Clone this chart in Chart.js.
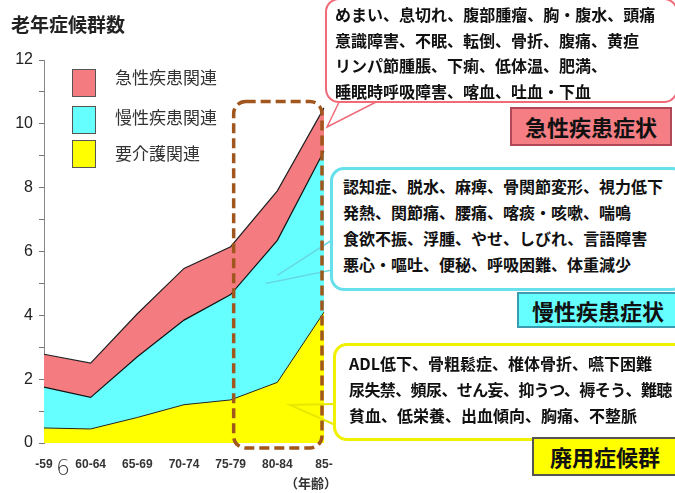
<!DOCTYPE html>
<html>
<head>
<meta charset="utf-8">
<script src="https://cdn.jsdelivr.net/npm/chart.js@4.4.0/dist/chart.umd.min.js"></script>
<style>
  body { margin: 0; width: 675px; height: 493px; overflow: hidden; background: #fff; position: relative; }
  #c { position: absolute; left: 0; top: 0; }
  .jp { font-family: "Noto Sans CJK JP", sans-serif; position: absolute; white-space: nowrap; }
  .title { left: 11px; top: 10px; font-size: 19px; font-weight: 700; color: #222; }
  .leg-box { position: absolute; left: 72px; width: 22px; height: 26px; border: 1px solid #555; }
  .leg-txt { left: 115px; font-size: 17px; color: #333; line-height: 20px; }
  .callout { background: #fff; border-radius: 14px; font-weight: 700; font-size: 16px; line-height: 26px; color: #111; }
  .tag { font-weight: 700; font-size: 22px; color: #111; text-align: center; box-sizing: border-box; }
</style>
</head>
<body>
<canvas id="c" width="675" height="493"></canvas>

<div class="jp title">老年症候群数</div>

<div class="leg-box" style="top:69px;background:#f47c80"></div>
<div class="leg-box" style="top:106px;background:#66ffff"></div>
<div class="leg-box" style="top:140px;background:#ffff00"></div>
<div class="jp leg-txt" style="top:67px">急性疾患関連</div>
<div class="jp leg-txt" style="top:107px">慢性疾患関連</div>
<div class="jp leg-txt" style="top:143px">要介護関連</div>

<div class="jp callout" style="left:325px;top:-2px;width:341px;height:99px;border:2px solid #f06a78;padding:2px 0 0 8px;line-height:25.5px">
めまい、息切れ、腹部腫瘤、胸・腹水、頭痛<br>意識障害、不眠、転倒、骨折、腹痛、黄疸<br>リンパ節腫脹、下痢、低体温、肥満、<br>睡眠時呼吸障害、喀血、吐血・下血
</div>
<div class="jp tag" style="left:510px;top:107px;width:162px;height:39px;line-height:35px;background:#f47e84;border:2px solid #b04858">急性疾患症状</div>

<div class="jp callout" style="left:330px;top:167px;width:340px;height:115px;border:3px solid #66e0ea;padding:3px 0 0 10px;overflow:hidden">
認知症、脱水、麻痺、骨関節変形、視力低下<br>発熱、関節痛、腰痛、喀痰・咳嗽、喘鳴<br>食欲不振、浮腫、やせ、しびれ、言語障害<br>悪心・嘔吐、便秘、呼吸困難、体重減少
</div>
<div class="jp tag" style="left:517px;top:292px;width:162px;height:36px;line-height:32px;background:#66ffff;border:2px solid #3a9cae">慢性疾患症状</div>

<div class="jp callout" style="left:333px;top:343px;width:340px;height:88px;border:3px solid #f0f000;padding:4px 0 0 13px;overflow:hidden">
ADL低下、骨粗鬆症、椎体骨折、嚥下困難<br><span style="letter-spacing:-0.6px">尿失禁、頻尿、せん妄、抑うつ、褥そう、難聴</span><br>貧血、低栄養、出血傾向、胸痛、不整脈
</div>
<div class="jp tag" style="left:532px;top:437px;width:146px;height:39px;line-height:35px;background:#ffff00;border:2px solid #555">廃用症候群</div>

<div class="jp" style="left:285px;top:473px;font-size:13px;font-weight:700;color:#333">（年齢）</div>
<div style="position:absolute;left:56px;top:455px;font-family:'DejaVu Sans';font-weight:200;font-size:22px;color:#333">6</div>

<script>
// age groups
const ageLabels = ['-59', '60-64', '65-69', '70-74', '75-79', '80-84', '85-'];
// stacked counts per age group
const careValues    = [0.47, 0.44, 0.80, 1.20, 1.35, 1.90, 4.10]; // 要介護関連
const chronicValues = [1.28, 0.99, 1.90, 2.65, 3.30, 4.45, 5.05]; // 慢性疾患関連
const acuteValues   = [1.03, 1.07, 1.35, 1.62, 1.50, 1.55, 1.35]; // 急性疾患関連
const yTicks = [0, 2, 4, 6, 8, 10, 12];

const annotations = {
    id: 'annotations',
    afterDatasetsDraw(chart) {
        const ctx = chart.ctx;
        const x = chart.scales.x, y = chart.scales.y;
        const px = v => x.getPixelForValue(v);
        const py = v => y.getPixelForValue(v);
        ctx.save();

        // red tail
        ctx.beginPath();
        ctx.moveTo(342, 96);
        ctx.lineTo(px(6) + 3, py(9.9));
        ctx.lineTo(388, 96);
        ctx.closePath();
        ctx.fillStyle = '#fff';
        ctx.fill();
        ctx.strokeStyle = '#f06a78';
        ctx.lineWidth = 1.5;
        ctx.stroke();

        // cyan tail
        ctx.strokeStyle = '#66d8e4';
        ctx.lineWidth = 1.5;
        ctx.beginPath();
        ctx.moveTo(332, 240);
        ctx.lineTo(px(5), py(5.25));
        ctx.moveTo(332, 270);
        ctx.lineTo(px(4.75), py(5.0));
        ctx.stroke();

        // yellow tail
        ctx.strokeStyle = '#e8e800';
        ctx.lineWidth = 2;
        ctx.beginPath();
        ctx.moveTo(335, 404);
        ctx.lineTo(px(5.27), py(1.19));
        ctx.lineTo(340, 427);
        ctx.stroke();

        // dashed frame round 75-79 .. 85-
        const l = px(4) + 3, r = px(6) - 2, t = py(10.7), b = py(0) + 5, rad = 12;
        ctx.strokeStyle = '#a0561c';
        ctx.lineWidth = 3.5;
        ctx.setLineDash([10, 5]);
        ctx.beginPath();
        ctx.roundRect(l, t, r - l, b - t, rad);
        ctx.stroke();
        ctx.restore();
    }
};

new Chart(document.getElementById('c'), {
    type: 'line',
    data: {
        labels: ageLabels,
        datasets: [
            { label: '要介護関連', data: careValues, fill: 'origin', backgroundColor: '#ffff00', borderColor: '#222', borderWidth: 1 },
            { label: '慢性疾患関連', data: chronicValues, fill: '-1', backgroundColor: '#66ffff', borderColor: '#111', borderWidth: 1.2 },
            { label: '急性疾患関連', data: acuteValues, fill: '-1', backgroundColor: '#f47c80', borderColor: '#222', borderWidth: 1.2 }
        ]
    },
    options: {
        responsive: false,
        animation: false,
        events: [],
        elements: { point: { radius: 0 }, line: { tension: 0 } },
        layout: { padding: { left: 0, top: 60, right: 351, bottom: 0 } },
        plugins: { legend: { display: false }, tooltip: { enabled: false } },
        scales: {
            x: {
                offset: false,
                grid: { display: false, drawTicks: false },
                border: { display: false },
                ticks: {
                    autoSkip: false, maxRotation: 0, padding: 14,
                    color: '#333',
                    font: { family: 'Liberation Sans', size: 12, weight: 'bold' }
                },
                afterFit(scale) { scale.height = 50; }
            },
            y: {
                stacked: true,
                min: 0, max: 12,
                grid: {
                    drawOnChartArea: false, tickLength: 5,
                    color: '#777'
                },
                border: { color: '#888', width: 1 },
                ticks: {
                    stepSize: 1, padding: 6, color: '#222',
                    font: { family: 'Liberation Sans', size: 16 },
                    callback: v => yTicks.includes(v) ? v : ''
                },
                afterFit(scale) { scale.width = 44; }
            }
        }
    },
    plugins: [annotations]
});
</script>
</body>
</html>
